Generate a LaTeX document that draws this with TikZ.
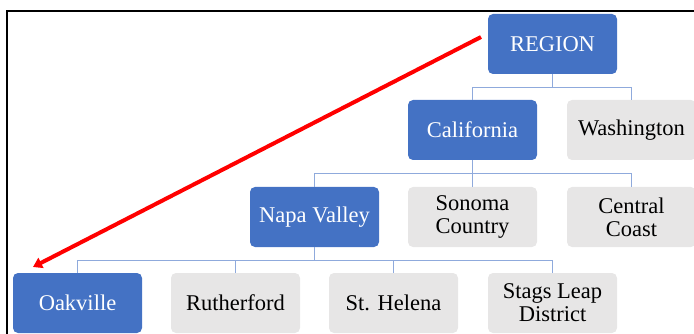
\documentclass[tikz,border=0pt]{standalone}
\usepackage{fontspec}
\setmainfont{LiberationSerif}[Extension=.ttf, UprightFont=*-Regular, BoldFont=*-Bold, ItalicFont=*-Italic, BoldItalicFont=*-BoldItalic]
\usetikzlibrary{arrows.meta}
\definecolor{boxblue}{HTML}{4472C4}
\definecolor{boxgray}{HTML}{E7E6E6}
\definecolor{linkblue}{HTML}{8FAADC}
\tikzset{
  x=1pt,y=1pt,
  orgbox/.style={rounded corners=5pt, minimum width=129pt, minimum height=60pt, inner sep=2pt, align=center, font=\fontsize{22.5}{23}\selectfont},
  bluebox/.style={orgbox, fill=boxblue, text=white},
  graybox/.style={orgbox, fill=boxgray, text=black},
  link/.style={draw=linkblue, line width=0.9pt},
  redarrow/.style={draw=red, line width=4pt, -{Triangle[length=9pt,width=11pt]}}
}
\begin{document}
\begin{tikzpicture}
\useasboundingbox (0,0) rectangle (694,-334);
\begin{scope}
\clip (0,0) rectangle (694,-334);
% frame
\draw[line width=2.5pt] (7,-336) -- (7,-11) -- (696,-11);
% nodes
\node[bluebox] (region) at (552.5,-44) {REGION};
\node[bluebox] (california) at (472.5,-130) {California};
\node[graybox] (washington) at (631.5,-130) {Washington};
\node[bluebox] (napa) at (314.5,-217) {Napa Valley};
\node[graybox] (sonoma) at (472.5,-217) {Sonoma\\Country};
\node[graybox] (central) at (631.5,-217) {Central\\Coast};
\node[bluebox] (oakville) at (77.5,-303) {Oakville};
\node[graybox] (rutherford) at (235.5,-303) {Rutherford};
\node[graybox] (helena) at (393.5,-303) {St. Helena};
\node[graybox] (stags) at (552.5,-303) {Stags Leap\\District};
% connectors
\draw[link] (region.south) -- ++(0,-13) coordinate (r1);
\draw[link] (r1) -| (california.north);
\draw[link] (r1) -| (washington.north);
\draw[link] (california.south) -- ++(0,-13) coordinate (r2);
\draw[link] (r2) -| (napa.north);
\draw[link] (r2) -| (sonoma.north);
\draw[link] (r2) -| (central.north);
\draw[link] (napa.south) -- ++(0,-13) coordinate (r3);
\draw[link] (r3) -| (oakville.north);
\draw[link] (r3) -| (rutherford.north);
\draw[link] (r3) -| (helena.north);
\draw[link] (r3) -| (stags.north);
% red arrow
\coordinate (arrowstart) at (481,-37);
\coordinate (arrowend) at (33,-267);
\draw[redarrow] (arrowstart) -- (arrowend);
\end{scope}
\end{tikzpicture}
\end{document}
